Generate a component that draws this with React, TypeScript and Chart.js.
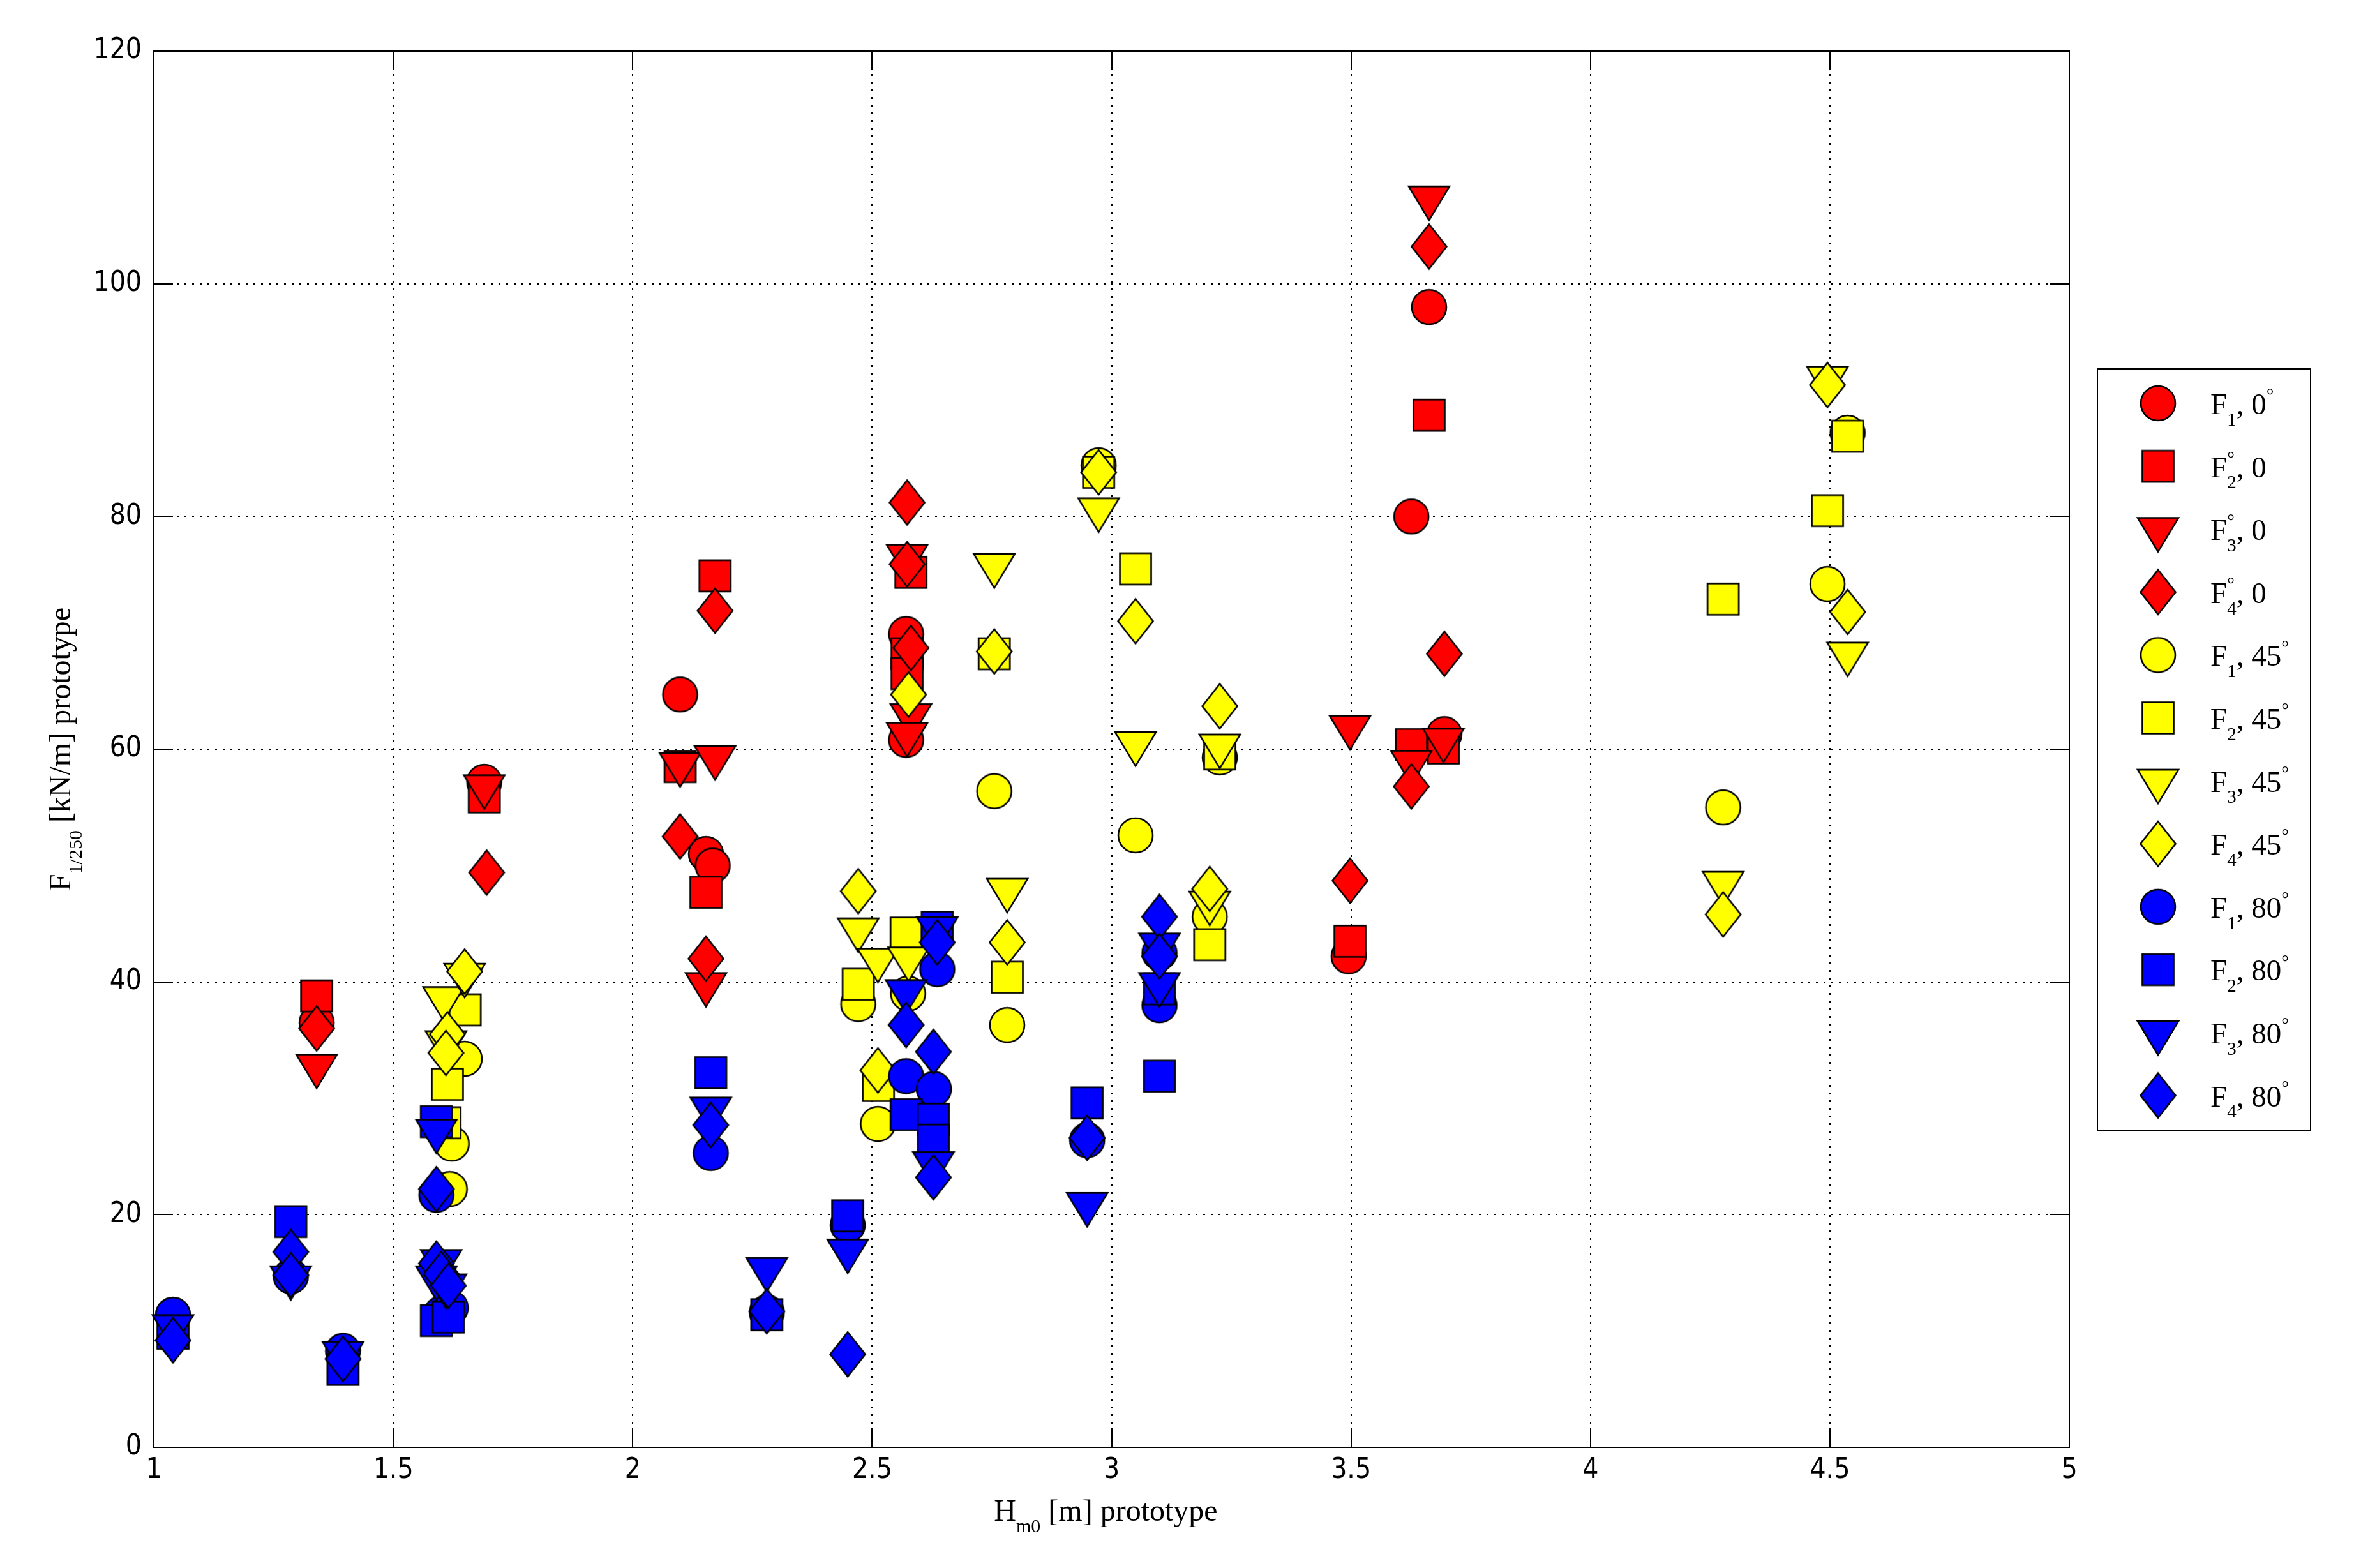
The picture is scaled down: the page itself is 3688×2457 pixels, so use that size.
import React, { useEffect, useRef } from 'react';
import { Chart, registerables } from 'chart.js';

Chart.register(...registerables);

type Pt = [number, number];

// ---- Data: [Hm0 (m), F1/250 (kN/m)] ----
const F1_0: Pt[] = [[1.34, 36.5], [1.69, 57.2], [2.099, 64.7], [2.153, 51.0], [2.167, 50.0], [2.571, 69.9], [2.571, 60.8], [3.495, 42.2], [3.626, 80.0], [3.663, 98.0], [3.695, 61.3]];
const F2_0: Pt[] = [[1.34, 38.8], [1.69, 55.9], [2.099, 58.5], [2.153, 47.7], [2.172, 74.9], [2.581, 75.2], [2.573, 68.2], [2.573, 66.5], [3.498, 43.5], [3.626, 60.4], [3.663, 88.7], [3.693, 60.1]];
const F3_0: Pt[] = [[1.34, 32.8], [1.69, 56.8], [2.099, 58.7], [2.172, 59.3], [2.153, 39.8], [2.573, 76.6], [2.581, 62.9], [2.573, 61.3], [3.498, 61.9], [3.626, 58.9], [3.663, 107.4], [3.693, 60.8]];
const F4_0: Pt[] = [[1.34, 36.0], [1.695, 49.4], [2.099, 52.5], [2.172, 71.9], [2.153, 42.0], [2.573, 81.2], [2.573, 75.9], [2.581, 68.7], [3.498, 48.7], [3.626, 56.8], [3.663, 103.2], [3.695, 68.2]];

const F1_45: Pt[] = [[1.618, 22.2], [1.622, 26.1], [1.649, 33.4], [2.471, 38.1], [2.512, 27.8], [2.575, 39.0], [2.755, 56.4], [2.782, 36.3], [2.973, 84.4], [3.05, 52.6], [3.205, 45.6], [3.226, 59.3], [4.277, 55.0], [4.495, 74.2], [4.537, 87.2]];
const F2_45: Pt[] = [[1.608, 27.9], [1.613, 31.2], [1.65, 37.6], [2.471, 39.8], [2.513, 31.1], [2.571, 44.2], [2.755, 68.2], [2.782, 40.4], [2.973, 83.8], [3.05, 75.5], [3.205, 43.2], [3.226, 59.6], [4.277, 72.9], [4.495, 80.5], [4.537, 86.9]];
const F3_45: Pt[] = [[1.605, 38.6], [1.61, 34.8], [1.649, 40.6], [2.471, 44.5], [2.512, 41.9], [2.576, 42.0], [2.755, 75.8], [2.782, 47.9], [2.973, 80.6], [3.05, 60.5], [3.205, 46.8], [3.226, 60.3], [4.277, 48.5], [4.495, 91.9], [4.537, 68.2]];
const F4_45: Pt[] = [[1.613, 35.5], [1.61, 33.9], [1.649, 40.9], [2.471, 47.8], [2.512, 32.4], [2.576, 64.7], [2.755, 68.4], [2.782, 43.4], [2.973, 83.8], [3.05, 71.0], [3.205, 48.0], [3.226, 63.7], [4.277, 45.8], [4.495, 91.3], [4.537, 71.8]];

const F1_80: Pt[] = [[1.04, 11.4], [1.286, 14.7], [1.395, 8.3], [1.59, 21.7], [1.6, 11.5], [1.62, 12.0], [2.163, 25.3], [2.28, 11.6], [2.449, 19.1], [2.571, 31.9], [2.629, 30.8], [2.636, 41.1], [2.949, 26.4], [3.1, 42.5], [3.1, 38.0]];
const F2_80: Pt[] = [[1.04, 9.8], [1.286, 19.4], [1.395, 6.7], [1.59, 28.0], [1.59, 10.9], [1.615, 11.2], [2.163, 32.2], [2.28, 11.4], [2.449, 19.9], [2.571, 28.6], [2.628, 28.2], [2.628, 26.4], [2.636, 44.7], [2.949, 29.6], [3.1, 39.4], [3.1, 31.9]];
const F3_80: Pt[] = [[1.04, 10.4], [1.286, 14.6], [1.395, 8.1], [1.59, 27.2], [1.6, 16.0], [1.59, 14.6], [1.61, 13.9], [2.163, 29.1], [2.28, 15.3], [2.449, 16.9], [2.571, 39.2], [2.628, 24.4], [2.636, 44.6], [2.949, 20.9], [3.1, 43.2], [3.1, 39.8]];
const F4_80: Pt[] = [[1.04, 9.2], [1.286, 16.8], [1.286, 14.8], [1.395, 7.6], [1.59, 22.2], [1.59, 15.8], [1.6, 14.9], [1.615, 13.9], [2.163, 27.7], [2.28, 11.7], [2.449, 8.0], [2.571, 36.3], [2.628, 34.0], [2.636, 43.4], [2.628, 23.2], [2.949, 26.6], [3.1, 45.6], [3.1, 42.2]];

const SERIES: Pt[][] = [F1_0, F2_0, F3_0, F4_0, F1_45, F2_45, F3_45, F4_45, F1_80, F2_80, F3_80, F4_80];
const SERIES_LABELS = ['F_1, 0^°', 'F^°_2, 0', 'F^°_3, 0', 'F^°_4, 0', 'F_1, 45^°', 'F_2, 45^°', 'F_3, 45^°', 'F_4, 45^°', 'F_1, 80^°', 'F_2, 80^°', 'F_3, 80^°', 'F_4, 80^°'];
const SERIES_COLORS = ['#ff0000', '#ff0000', '#ff0000', '#ff0000', '#ffff00', '#ffff00', '#ffff00', '#ffff00', '#0000ff', '#0000ff', '#0000ff', '#0000ff'];
const SERIES_SHAPES = ['circle', 'square', 'triangle', 'diamond', 'circle', 'square', 'triangle', 'diamond', 'circle', 'square', 'triangle', 'diamond'];

const X_TICKS = [1, 1.5, 2, 2.5, 3, 3.5, 4, 4.5, 5];
const Y_TICKS = [0, 20, 40, 60, 80, 100, 120];
const X_TITLE = 'H_{m0} [m] prototype';
const Y_TITLE = 'F_{1/250} [kN/m] prototype';

const SERIF = "'Liberation Serif', 'DejaVu Serif', serif";
const TICK_FONT = "'Liberation Sans Narrow', 'DejaVu Sans Condensed', 'Liberation Sans', sans-serif";

function makeMarker(shape: string, fill: string): HTMLCanvasElement {
  const c = document.createElement('canvas');
  let w = 60, h = 60;
  if (shape === 'square') { w = 56; h = 56; }
  else if (shape === 'triangle') { w = 72; h = 80; }
  else if (shape === 'diamond') { w = 62; h = 78; }
  c.width = w; c.height = h;
  const g = c.getContext('2d')!;
  const cx = w / 2, cy = h / 2;
  g.fillStyle = fill;
  g.strokeStyle = '#000';
  g.lineWidth = 2.6;
  g.beginPath();
  if (shape === 'circle') {
    g.arc(cx, cy, 27, 0, Math.PI * 2);
  } else if (shape === 'square') {
    g.rect(cx - 24.5, cy - 24.5, 49, 49);
  } else if (shape === 'triangle') {
    const tw = 64, th = 53;
    g.moveTo(cx - tw / 2, cy - th / 3);
    g.lineTo(cx + tw / 2, cy - th / 3);
    g.lineTo(cx, cy + (2 * th) / 3);
    g.closePath();
  } else {
    const dw = 55, dh = 70;
    g.moveTo(cx, cy - dh / 2);
    g.lineTo(cx + dw / 2, cy);
    g.lineTo(cx, cy + dh / 2);
    g.lineTo(cx - dw / 2, cy);
    g.closePath();
  }
  g.fill();
  g.stroke();
  return c;
}

type Part = { t: string; k: 'n' | 'sub' | 'sup' };
function parseRich(s: string): Part[] {
  const out: Part[] = [];
  let i = 0;
  let buf = '';
  while (i < s.length) {
    const ch = s[i];
    if (ch === '_' || ch === '^') {
      if (buf) { out.push({ t: buf, k: 'n' }); buf = ''; }
      let t = '';
      if (s[i + 1] === '{') {
        const j = s.indexOf('}', i + 2);
        t = s.slice(i + 2, j);
        i = j + 1;
      } else {
        t = s[i + 1];
        i += 2;
      }
      out.push({ t, k: ch === '_' ? 'sub' : 'sup' });
    } else {
      buf += ch;
      i++;
    }
  }
  if (buf) out.push({ t: buf, k: 'n' });
  return out;
}

function layoutRich(ctx: CanvasRenderingContext2D, s: string, size: number) {
  const parts = parseRich(s);
  const small = Math.round(size * 0.62);
  const items: { t: string; x: number; dy: number; font: string }[] = [];
  let cur = 0;
  let prevScript: { k: string; x: number; w: number } | null = null;
  for (const p of parts) {
    const font = p.k === 'n' ? `${size}px ${SERIF}` : `${small}px ${SERIF}`;
    ctx.font = font;
    const w = ctx.measureText(p.t).width;
    const dy = p.k === 'sub' ? size * 0.38 : p.k === 'sup' ? -size * 0.42 : 0;
    if (p.k !== 'n' && prevScript && prevScript.k !== p.k) {
      items.push({ t: p.t, x: prevScript.x, dy, font });
      cur = prevScript.x + Math.max(prevScript.w, w);
      prevScript = null;
      continue;
    }
    items.push({ t: p.t, x: cur, dy, font });
    prevScript = p.k !== 'n' ? { k: p.k, x: cur, w } : null;
    cur += w;
  }
  return { items, width: cur };
}

function drawRich(ctx: CanvasRenderingContext2D, s: string, x: number, y: number, size: number, center: boolean) {
  const { items, width } = layoutRich(ctx, s, size);
  const x0 = center ? x - width / 2 : x;
  ctx.textBaseline = 'alphabetic';
  ctx.textAlign = 'left';
  ctx.fillStyle = '#000';
  for (const it of items) {
    ctx.font = it.font;
    ctx.fillText(it.t, x0 + it.x, y + it.dy);
  }
}

const TICK_LEN = 30;

function makeDecorPlugin(markers: HTMLCanvasElement[]) {
  return {
    id: 'decor',
    beforeDatasetsDraw(chart: any) {
      const { ctx, chartArea: a, scales } = chart;
      const xs = scales.x, ys = scales.y;
      ctx.save();
      ctx.strokeStyle = '#000';
      ctx.lineWidth = 2;
      ctx.setLineDash([]);
      ctx.beginPath();
      for (const v of X_TICKS) {
        const px = Math.round(xs.getPixelForValue(v));
        ctx.moveTo(px, a.bottom); ctx.lineTo(px, a.bottom - TICK_LEN);
        ctx.moveTo(px, a.top); ctx.lineTo(px, a.top + TICK_LEN);
      }
      for (const v of Y_TICKS) {
        const py = Math.round(ys.getPixelForValue(v));
        ctx.moveTo(a.left, py); ctx.lineTo(a.left + TICK_LEN, py);
        ctx.moveTo(a.right, py); ctx.lineTo(a.right - TICK_LEN, py);
      }
      ctx.stroke();
      ctx.strokeRect(a.left, a.top, a.right - a.left, a.bottom - a.top);
      ctx.restore();
    },
    afterDraw(chart: any) {
      const { ctx, chartArea: a } = chart;
      ctx.save();
      // x title
      drawRich(ctx, X_TITLE, (a.left + a.right) / 2 - 9, 2383, 48, true);
      // y title (rotated)
      ctx.save();
      ctx.translate(110, (a.top + a.bottom) / 2);
      ctx.rotate(-Math.PI / 2);
      drawRich(ctx, Y_TITLE, 0, 0, 48, true);
      ctx.restore();
      // legend box
      const lx = 3286, ly = 578, lw = 334, lh = 1194;
      ctx.fillStyle = '#fff';
      ctx.fillRect(lx, ly, lw, lh);
      ctx.strokeStyle = '#000';
      ctx.lineWidth = 2;
      ctx.strokeRect(lx, ly, lw, lh);
      for (let i = 0; i < SERIES_LABELS.length; i++) {
        const cy = 632 + i * 98.6;
        const m = markers[i];
        ctx.drawImage(m, 3381 - m.width / 2, cy - m.height / 2);
        drawRich(ctx, SERIES_LABELS[i], 3463, cy + 17, 47, false);
      }
      ctx.restore();
    },
  };
}

export default function App() {
  const ref = useRef<HTMLCanvasElement | null>(null);

  useEffect(() => {
    document.body.style.margin = '0';
    document.body.style.background = '#fff';
    const canvas = ref.current!;
    const markers = SERIES_SHAPES.map((sh, i) => makeMarker(sh, SERIES_COLORS[i]));
    const chart = new Chart(canvas, {
      type: 'scatter',
      data: {
        datasets: SERIES.map((pts, i) => ({
          label: SERIES_LABELS[i],
          data: pts.map(([x, y]) => ({ x, y })),
          pointStyle: markers[i] as any,
          pointRadius: 30,
          pointHoverRadius: 30,
          backgroundColor: SERIES_COLORS[i],
          borderColor: '#000',
          showLine: false,
          clip: false as any,
          order: SERIES.length - i,
        })),
      },
      options: {
        responsive: false,
        animation: false,
        events: [],
        layout: { padding: { left: 0, top: 80, right: 446, bottom: 0 } },
        plugins: { legend: { display: false }, tooltip: { enabled: false }, title: { display: false } },
        scales: {
          x: {
            type: 'linear',
            min: 1,
            max: 5,
            afterBuildTicks: (s: any) => { s.ticks = X_TICKS.map((v) => ({ value: v })); },
            afterFit: (s: any) => { s.height = 189; },
            ticks: {
              color: '#000',
              padding: 10,
              font: { family: TICK_FONT, size: 44 },
              callback: (v: any) => String(v),
              maxRotation: 0,
              autoSkip: false,
            },
            grid: { color: '#000', lineWidth: 2, drawTicks: false },
            border: { display: false, dash: [3, 9] },
          },
          y: {
            type: 'linear',
            min: 0,
            max: 120,
            afterBuildTicks: (s: any) => { s.ticks = Y_TICKS.map((v) => ({ value: v })); },
            afterFit: (s: any) => { s.width = 241; },
            ticks: {
              color: '#000',
              padding: 19,
              font: { family: TICK_FONT, size: 44 },
              callback: (v: any) => String(v),
              autoSkip: false,
            },
            grid: { color: '#000', lineWidth: 2, drawTicks: false },
            border: { display: false, dash: [3, 9] },
          },
        },
      },
      plugins: [makeDecorPlugin(markers)],
    } as any);
    return () => chart.destroy();
  }, []);

  return <canvas ref={ref} width={3688} height={2457} style={{ display: 'block', width: 3688, height: 2457 }} />;
}
